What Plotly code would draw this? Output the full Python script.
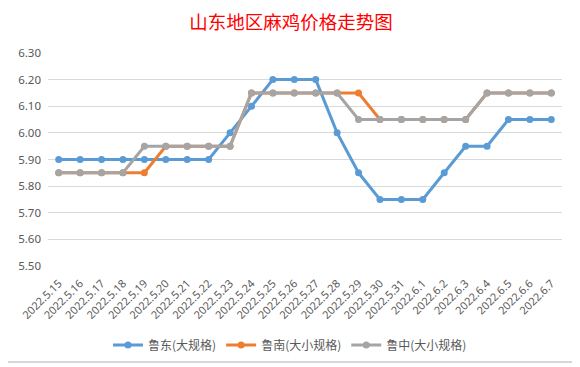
import plotly.graph_objects as go

dates = ["2022.5.15","2022.5.16","2022.5.17","2022.5.18","2022.5.19","2022.5.20","2022.5.21","2022.5.22",
         "2022.5.23","2022.5.24","2022.5.25","2022.5.26","2022.5.27","2022.5.28","2022.5.29","2022.5.30",
         "2022.5.31","2022.6.1","2022.6.2","2022.6.3","2022.6.4","2022.6.5","2022.6.6","2022.6.7"]
ludong = [5.90,5.90,5.90,5.90,5.90,5.90,5.90,5.90,6.00,6.10,6.20,6.20,6.20,6.00,5.85,5.75,5.75,5.75,5.85,5.95,5.95,6.05,6.05,6.05]
lunan = [5.85,5.85,5.85,5.85,5.85,5.95,5.95,5.95,5.95,6.15,6.15,6.15,6.15,6.15,6.15,6.05,6.05,6.05,6.05,6.05,6.15,6.15,6.15,6.15]
luzhong = [5.85,5.85,5.85,5.85,5.95,5.95,5.95,5.95,5.95,6.15,6.15,6.15,6.15,6.15,6.05,6.05,6.05,6.05,6.05,6.05,6.15,6.15,6.15,6.15]
names = ["鲁东(大规格)", "鲁南(大小规格)", "鲁中(大小规格)"]
colors = ["#5b9bd5", "#ed7d31", "#a5a5a5"]
y_ticks = [5.5,5.6,5.7,5.8,5.9,6.0,6.1,6.2,6.3]

fig = go.Figure()
for vals, name, c in zip([ludong, lunan, luzhong], names, colors):
    fig.add_trace(go.Scatter(x=dates, y=vals, name=name, mode="lines+markers",
                             line=dict(color=c, width=3), marker=dict(color=c, size=7)))

OFF = 8  # page body margin
W, H = 580 - OFF, 367 - OFF
L, R, T, B = 48 - OFF, 580 - 562, 53 - OFF, 367 - 266
pw, ph = W - L - R, H - T - B
def px(x): return (x - OFF - L) / pw
def py(y): return (H - B - (y - OFF)) / ph

# chart frame (right and bottom edges visible)
fig.add_shape(type="line", xref="paper", yref="paper",
              x0=px(577), x1=px(577), y0=py(362), y1=py(8),
              line=dict(color="#c8c8d4", width=1.5))
fig.add_shape(type="line", xref="paper", yref="paper",
              x0=px(8), x1=px(577), y0=py(362), y1=py(362),
              line=dict(color="#c8c8d4", width=1.5))

fig.update_layout(
    width=W, height=H,
    margin=dict(l=L, r=R, t=T, b=B, autoexpand=False),
    paper_bgcolor="white", plot_bgcolor="white",
    title=dict(text="山东地区麻鸡价格走势图", x=px(291), xanchor="center", xref="paper",
               y=1 - (23 - OFF)/H, yanchor="middle",
               font=dict(family="Noto Sans CJK SC", size=18.5, color="#ff0000")),
    xaxis=dict(type="category", tickangle=-45, tickfont=dict(family="Noto Sans", size=11, color="#595959"),
               showgrid=False, showline=False, ticks="", range=[-0.5, len(dates)-0.5], automargin=False,
               ticklabelstandoff=8),
    yaxis=dict(range=[5.5, 6.3], tickvals=y_ticks, ticktext=[f"{v:.2f}" for v in y_ticks],
               tickfont=dict(family="Noto Sans", size=11.5, color="#595959"),
               gridcolor="#d9d9d9", gridwidth=1, zeroline=False, showline=False, ticks="",
               ticklabelstandoff=6, automargin=False),
    legend=dict(orientation="h", x=px(290), xanchor="center", y=py(345), yanchor="middle",
                font=dict(family="Noto Sans CJK SC", size=12, color="#595959"), itemwidth=30, tracegroupgap=0),
    showlegend=True,
)
fig.write_html("out.html")
